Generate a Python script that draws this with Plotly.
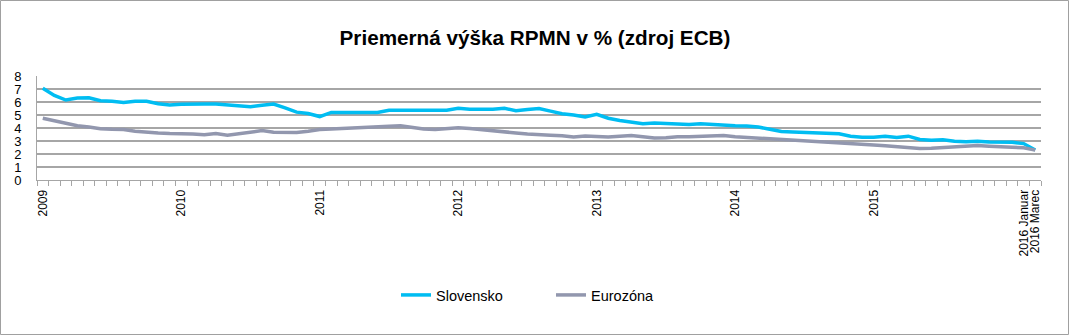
import plotly.graph_objects as go

# Monthly average APRC (RPMN) in %, 87 observations
slovensko = [
    7.05, 6.50, 6.15, 6.30, 6.33, 6.10, 6.05, 5.97, 6.05, 6.05, 5.87, 5.77,
    5.82, 5.85, 5.85, 5.84, 5.76, 5.66, 5.63, 5.75, 5.84, 5.55, 5.22, 5.12,
    4.88, 5.20, 5.20, 5.20, 5.20, 5.20, 5.37, 5.37, 5.37, 5.37, 5.37, 5.37,
    5.52, 5.45, 5.45, 5.45, 5.52, 5.33, 5.43, 5.50, 5.30, 5.10, 5.00, 4.85,
    5.05, 4.75, 4.58, 4.45, 4.33, 4.38, 4.33, 4.33, 4.27, 4.32, 4.25, 4.20,
    4.17, 4.15, 4.08, 3.90, 3.73, 3.70, 3.65, 3.60, 3.58, 3.55, 3.37, 3.28,
    3.28, 3.37, 3.27, 3.37, 3.12, 3.05, 3.10, 2.98, 2.95, 2.98, 2.93, 2.93,
    2.90, 2.80, 2.30,
]
eurozona = [
    4.75, 4.56, 4.36, 4.18, 4.07, 3.95, 3.90, 3.88, 3.75, 3.67, 3.62, 3.58,
    3.58, 3.54, 3.48, 3.57, 3.45, 3.57, 3.68, 3.80, 3.68, 3.65, 3.65, 3.75,
    3.88, 3.93, 3.96, 4.02, 4.08, 4.10, 4.13, 4.18, 4.06, 3.92, 3.88, 3.96,
    4.02, 3.96, 3.86, 3.78, 3.70, 3.62, 3.54, 3.47, 3.45, 3.40, 3.30, 3.38,
    3.36, 3.30, 3.37, 3.42, 3.33, 3.24, 3.25, 3.33, 3.33, 3.38, 3.43, 3.42,
    3.33, 3.28, 3.26, 3.20, 3.12, 3.07, 3.02, 3.00, 2.90, 2.87, 2.80, 2.75,
    2.70, 2.63, 2.55, 2.45, 2.43, 2.45, 2.50, 2.60, 2.65, 2.65, 2.60, 2.55,
    2.55, 2.48, 2.30,
]
# labelled observations (index in series) and their texts
tick_index = [0, 12, 24, 36, 48, 60, 72, 85, 86]
tick_labels = ["2009", "2010", "2011", "2012", "2013", "2014", "2015",
               "2016 Januar", "2016 Marec"]
y_ticks = [0, 1, 2, 3, 4, 5, 6, 7, 8]

x = list(range(len(slovensko)))
FONT = "Liberation Sans, Arial, sans-serif"
GRID = "#a6a6a6"

fig = go.Figure()
fig.add_trace(go.Scatter(x=x, y=slovensko, name="Slovensko", mode="lines",
                         line=dict(color="#00bdf2", width=3.5)))
fig.add_trace(go.Scatter(x=x, y=eurozona, name="Eurozóna", mode="lines",
                         line=dict(color="#9297ae", width=3.5)))

L, R, T, B = 37, 29, 76, 156
W, H = 1070, 336
pw, ph = W - L - R, H - T - B

fig.update_layout(
    width=W, height=H,
    margin=dict(l=L, r=R, t=T, b=B),
    paper_bgcolor="white", plot_bgcolor="white",
    font=dict(family=FONT, color="black"),
    title=dict(text="<b>Priemerná výška RPMN v % (zdroj ECB)</b>",
               x=0.5, xanchor="center", xref="container",
               y=1 - 38 / H, yanchor="middle", yref="container",
               font=dict(size=20.7, family=FONT, color="black")),
    showlegend=True,
    legend=dict(orientation="h", x=0.5 + 12 / pw, xanchor="center",
                y=(H - B - 295) / ph, yanchor="middle",
                font=dict(size=14.5, family=FONT),
                entrywidth=110, traceorder="normal"),
    xaxis=dict(range=[-0.5, len(x) - 0.5], tickmode="array",
               tickvals=tick_index, ticktext=tick_labels, tickangle=-90,
               ticks="", showgrid=False, zeroline=False,
               showline=True, linecolor=GRID, linewidth=1,
               tickfont=dict(size=12, family=FONT),
               ticklabelstandoff=4,
               minor=dict(ticks="outside", tickmode="array",
                          tickvals=[i - 0.5 for i in range(len(x) + 1)],
                          ticklen=5, tickcolor=GRID, tickwidth=1,
                          showgrid=False)),
    yaxis=dict(range=[0, 8], tickmode="array", tickvals=y_ticks,
               showgrid=True, gridcolor=GRID, gridwidth=2,
               zeroline=False, showline=True, linecolor=GRID, linewidth=1,
               ticks="", ticklabelstandoff=12,
               tickfont=dict(size=13, family=FONT)),
)

# outer chart border
fig.add_shape(type="rect", xref="paper", yref="paper",
              x0=(0.5 - L) / pw, x1=(W - 1.5 - L) / pw,
              y0=(H - B - (H - 1.5)) / ph, y1=(H - B - 0.5) / ph,
              line=dict(color="#a0a0a0", width=1), fillcolor="rgba(0,0,0,0)",
              layer="below")

fig.write_html("out.html")
